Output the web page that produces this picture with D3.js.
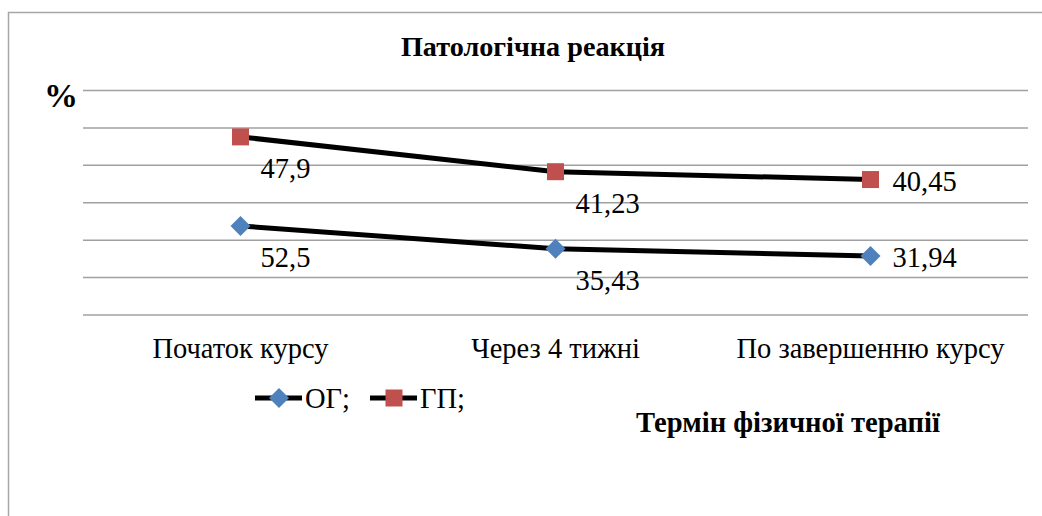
<!DOCTYPE html>
<html><head><meta charset="utf-8">
<script src="https://cdn.jsdelivr.net/npm/d3@7"></script>
<style>body{margin:0;background:#fff}svg{display:block}</style>
</head><body>
<script>
const categories = ["Початок курсу", "Через 4 тижні", "По завершенню курсу"];
const seriesNames = ["ОГ;", "ГП;"];
const ogPlot = [23.8, 17.7, 15.8];
const gpPlot = [47.6, 38.3, 36.2];
// data labels as printed in the chart
const ogLabels = ["52,5", "35,43", "31,94"];
const gpLabels = ["47,9", "41,23", "40,45"];
const yTicks = [0, 10, 20, 30, 40, 50, 60];

const FONT = "'Liberation Serif'";
const W = 1042, H = 516;
const svg = d3.select("body").append("svg").attr("width", W).attr("height", H);
// frame
svg.append("path").attr("d", "M8.5,516 V12.5 H1042").attr("fill","none").attr("stroke","#a6a6a6").attr("stroke-width",1.5);

const x = d3.scaleBand().domain(categories).range([83, 1028]);
const y = d3.scaleLinear().domain([0, 60]).range([315, 90.5]);

svg.append("g").selectAll("line").data(yTicks).join("line")
  .attr("x1", 83).attr("x2", 1028).attr("y1", d => y(d)).attr("y2", d => y(d))
  .attr("stroke", "#a0a0a0").attr("stroke-width", 1.5);

function txt(sel, size, bold) {
  return sel.style("font-family", FONT).style("font-size", size + "px")
    .style("font-weight", bold ? "bold" : "normal").attr("fill", "#000");
}

txt(svg.append("text"), 28.2, true).attr("x", 533).attr("y", 56).attr("text-anchor","middle")
  .text("Патологічна реакція");
txt(svg.append("text"), 34, true).attr("x", 61).attr("y", 107).attr("text-anchor","middle")
  .text("%");

// categories
txt(svg.append("g").selectAll("text").data(categories).join("text"), 28.5, false)
  .attr("x", d => x(d) + x.bandwidth()/2).attr("y", 358).attr("text-anchor","middle")
  .text(d => d);

const cx = (d,i) => x(categories[i]) + x.bandwidth()/2;
const line = d3.line().x((d,i) => cx(d,i)).y(d => y(d));
[ogPlot, gpPlot].forEach(s => {
  svg.append("path").attr("d", line(s)).attr("fill","none").attr("stroke","#000").attr("stroke-width",5).attr("stroke-linejoin","round");
});
const sq = 17, dm = 10;
svg.append("g").selectAll("path").data(ogPlot).join("path")
  .attr("d", (d,i) => { const X = cx(d,i), Y = y(d); return `M${X},${Y-dm}L${X+dm},${Y}L${X},${Y+dm}L${X-dm},${Y}Z`; })
  .attr("fill", "#4F81BD");
svg.append("g").selectAll("rect").data(gpPlot).join("rect")
  .attr("x", (d,i) => cx(d,i) - sq/2).attr("y", d => y(d) - sq/2).attr("width", sq).attr("height", sq)
  .attr("fill", "#C0504D");

function labels(vals, texts) {
  txt(svg.append("g").selectAll("text").data(vals).join("text"), 28.5, false)
    .attr("x", (d,i) => cx(d,i) + (i === vals.length-1 ? 22 : 20))
    .attr("y", (d,i) => y(d) + (i === vals.length-1 ? 1.5 : 31))
    .attr("dy", "0.35em")
    .text((d,i) => texts[i]);
}
labels(ogPlot, ogLabels);
labels(gpPlot, gpLabels);

// legend
const ly = 398;
const leg = [{x:255, name: seriesNames[0], type:"d"}, {x:370, name: seriesNames[1], type:"s"}];
leg.forEach(l => {
  svg.append("line").attr("x1", l.x).attr("x2", l.x+47).attr("y1", ly).attr("y2", ly).attr("stroke","#000").attr("stroke-width",5);
  const mx = l.x + 24;
  if (l.type === "d") svg.append("path").attr("d", `M${mx},${ly-dm}L${mx+dm},${ly}L${mx},${ly+dm}L${mx-dm},${ly}Z`).attr("fill","#4F81BD");
  else svg.append("rect").attr("x", mx-sq/2).attr("y", ly-sq/2).attr("width", sq).attr("height", sq).attr("fill","#C0504D");
  txt(svg.append("text"), 28.5, false).attr("x", l.x+50).attr("y", ly).attr("dy","0.35em").text(l.name);
});

txt(svg.append("text"), 28.6, true).attr("x", 788).attr("y", 432).attr("text-anchor","middle")
  .text("Термін фізичної терапії");
</script>
</body></html>
